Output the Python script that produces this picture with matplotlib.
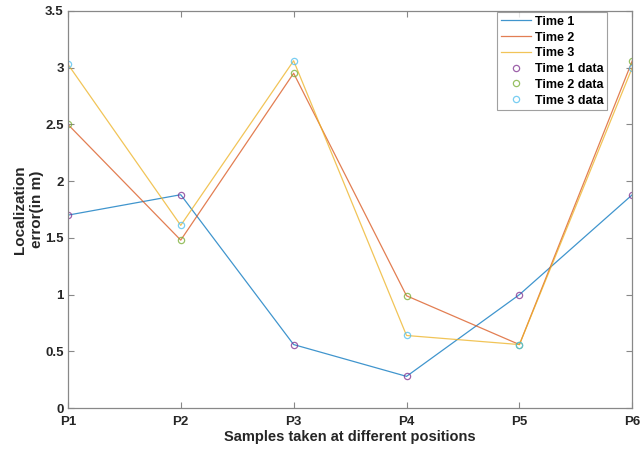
import matplotlib
matplotlib.use("Agg")
import matplotlib.pyplot as plt

plt.rcParams['font.family'] = ['Liberation Sans', 'DejaVu Sans']
plt.rcParams['font.weight'] = 'bold'

positions = ["P1", "P2", "P3", "P4", "P5", "P6"]
time1 = [1.70, 1.88, 0.56, 0.28, 1.00, 1.88]
time2 = [2.50, 1.48, 2.95, 0.99, 0.56, 3.06]
time3 = [3.03, 1.61, 3.06, 0.64, 0.56, 3.00]

line_colors = ["#0072BD", "#D95319", "#EDB120"]
marker_colors = ["#7E2F8E", "#77AC30", "#4DBEEE"]

fig = plt.figure(figsize=(6.4, 4.5), dpi=100)
ax = fig.add_axes([0.106, 0.093, 0.882, 0.883])

x = list(range(len(positions)))
series = [time1, time2, time3]
for i, y in enumerate(series):
    ax.plot(x, y, color=line_colors[i], lw=0.9, alpha=0.75, label="Time %d" % (i + 1))
for i, y in enumerate(series):
    ax.plot(x, y, ls="none", marker="o", ms=4.5, mfc="none", mec=marker_colors[i],
            mew=0.9, alpha=0.75, label="Time %d data" % (i + 1))

ax.set_xlim(0, 5)
ax.set_ylim(0, 3.5)
ax.set_xticks(x)
ax.set_xticklabels(positions)
ax.set_yticks([0, 0.5, 1, 1.5, 2, 2.5, 3, 3.5])
ax.set_yticklabels(["0", "0.5", "1", "1.5", "2", "2.5", "3", "3.5"])
ax.tick_params(direction="in", length=4, color="#888888", labelsize=9.5,
               top=True, right=True, pad=3)
ax.tick_params(axis="x", pad=6)
for s in ax.spines.values():
    s.set_color("#888888")
    s.set_linewidth(0.9)

ax.set_xlabel("Samples taken at different positions", fontsize=10.5, fontweight="bold",
              color="#262626", labelpad=1)
ax.set_ylabel("Localization\nerror(in m)", fontsize=11, fontweight="bold",
              color="#262626", labelpad=1, multialignment="center")
for lab in ax.get_xticklabels() + ax.get_yticklabels():
    lab.set_color("#262626")
    lab.set_fontweight("bold")

leg = ax.legend(loc="upper right", bbox_to_anchor=(0.958, 1.0), fontsize=9,
                frameon=True, fancybox=False, edgecolor="#888888",
                handlelength=2.4, handletextpad=0.3, labelspacing=0.3,
                borderpad=0.3, borderaxespad=0.1)
leg.get_frame().set_linewidth(0.8)

fig.savefig("out.png", dpi=100)
